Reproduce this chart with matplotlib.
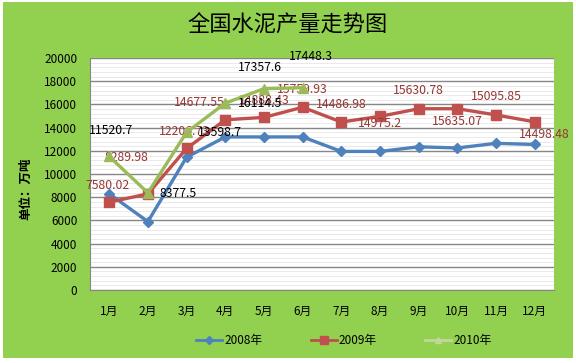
import matplotlib
matplotlib.use("Agg")
import matplotlib.pyplot as plt
from matplotlib.patches import Rectangle
from matplotlib.lines import Line2D
from matplotlib.ticker import MultipleLocator

plt.rcParams['font.family'] = ['Noto Sans CJK SC', 'DejaVu Sans']

months = ['1月', '2月', '3月', '4月', '5月', '6月', '7月', '8月', '9月', '10月', '11月', '12月']
s2008 = [8300, 5900, 11450, 13200, 13200, 13200, 11950, 11950, 12350, 12250, 12650, 12550]
s2009 = [7580.02, 8289.98, 12206.73, 14677.55, 14888.43, 15759.93,
         14486.98, 14975.2, 15630.78, 15635.07, 15095.85, 14498.48]
s2010 = [11520.7, 8377.5, 13598.7, 16114.5, 17357.6, 17448.3]
yticks = list(range(0, 20001, 2000))

# label offsets (pixels) as placed in the original chart
off2009 = [(-2, 17), (-21, 36), (-2, 17), (-26, 17), (0, 17), (0, 18),
           (0, 18), (0, -7), (0, 18), (0, -13), (0, 18), (9, -13)]
off2010 = [(2, 26), (30, -1), (33, 0), (35, 0), (-4, 21), (8, 31)]

c08, c09, c10 = '#4F81BD', '#C0504D', '#9BBB59'

fig = plt.figure(figsize=(5.76, 3.63), dpi=100, facecolor='white')
fig.patches.append(Rectangle((0.005, 0.014), 0.99, 0.981, transform=fig.transFigure,
                             facecolor='#92D050', edgecolor='none', zorder=-10))
ax = fig.add_axes([0.156, 0.201, 0.806, 0.639])
ax.set_facecolor('white')

x = list(range(len(months)))
ax.plot(x, s2008, color=c08, lw=2.4, marker='D', ms=5.5, zorder=3)
ax.plot(x, s2009, color=c09, lw=2.4, marker='s', ms=7, zorder=4)
ax.plot(x[:len(s2010)], s2010, color=c10, lw=2.4, marker='^', ms=7, zorder=6)

for i, v in enumerate(s2009):
    ax.annotate(str(v), (i, v), xytext=off2009[i], textcoords='offset pixels',
                ha='center', va='center', fontsize=8.8, color='#953735', zorder=5,
                annotation_clip=False)
for i, v in enumerate(s2010):
    ax.annotate(str(v), (i, v), xytext=off2010[i], textcoords='offset pixels',
                ha='center', va='center', fontsize=8.8, color='black', zorder=7,
                annotation_clip=False)

ax.set_xlim(-0.5, len(months) - 0.5)
ax.set_ylim(0, 20000)
ax.set_xticks(x)
ax.set_xticklabels(months)
ax.set_yticks(yticks)
ax.yaxis.set_minor_locator(MultipleLocator(400))
ax.grid(axis='y', which='major', color='#868686', lw=1)
ax.grid(axis='y', which='minor', color='#E6E6E6', lw=0.6)
ax.set_axisbelow(True)
ax.tick_params(axis='both', which='both', length=0, labelsize=8.5, colors='black')
ax.tick_params(axis='x', pad=11)
ax.tick_params(axis='y', pad=9)
for side in ['top', 'right']:
    ax.spines[side].set_visible(False)
ax.spines['left'].set_color('#868686')
ax.spines['bottom'].set_color('#868686')

fig.text(0.5, 0.931, '全国水泥产量走势图', ha='center', va='center', fontsize=16,
         fontweight='medium')
fig.text(0.045, 0.48, '单位：万吨', ha='center', va='center', rotation=90,
         fontsize=9, fontweight='bold')

handles = [Line2D([], [], color=c08, lw=2, marker='D', ms=4),
           Line2D([], [], color=c09, lw=2, marker='s', ms=6),
           Line2D([], [], color='#C4D79B', lw=2, marker='^', ms=5)]
fig.legend(handles, ['2008年', '2009年', '2010年'], loc='center',
           bbox_to_anchor=(0.597, 0.061), ncol=3, frameon=False, fontsize=8.5,
           handlelength=2.2, handletextpad=0.2, columnspacing=4.1)

fig.savefig('out.png', dpi=100, facecolor=fig.get_facecolor())
